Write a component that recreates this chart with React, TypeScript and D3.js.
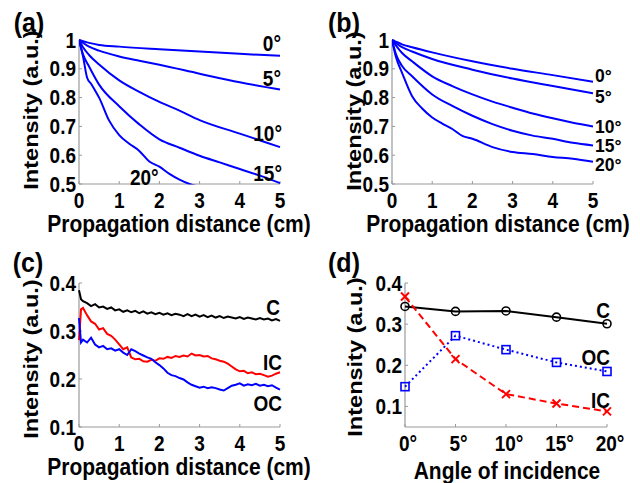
import React from "react";
import * as d3 from "d3";

// panel (a): intensity vs propagation distance
const a0x = [0, 0.25, 0.5, 1, 2, 3, 4, 5];
const a0y = [1, 0.99, 0.983, 0.977, 0.968, 0.96, 0.952, 0.945];
const a5x = [0, 0.25, 0.5, 1, 1.5, 2, 3, 4, 5];
const a5y = [1, 0.977, 0.963, 0.943, 0.928, 0.914, 0.883, 0.853, 0.828];
const a10x = [0, 0.1, 0.25, 0.5, 1, 1.5, 2, 2.5, 3, 4, 5];
const a10y = [1, 0.975, 0.948, 0.915, 0.86, 0.82, 0.785, 0.755, 0.722, 0.675, 0.628];
const a15x = [0, 0.1, 0.25, 0.5, 1, 1.5, 2, 2.5, 3, 3.5, 4, 4.5, 5];
const a15y = [1, 0.95, 0.908, 0.845, 0.77, 0.707, 0.655, 0.626, 0.598, 0.575, 0.552, 0.529, 0.503];
const a20x = [0, 0.1, 0.2, 0.3, 0.4, 0.5, 0.75, 1, 1.25, 1.5, 1.75, 2, 2.25, 2.5, 2.75, 3];
const a20y = [1, 0.943, 0.87, 0.848, 0.825, 0.8, 0.72, 0.67, 0.64, 0.615, 0.578, 0.56, 0.535, 0.515, 0.5, 0.49];

// panel (b)
const b0x = [0, 0.25, 0.5, 1, 2, 3, 4, 5];
const b0y = [1, 0.985, 0.975, 0.957, 0.926, 0.9, 0.878, 0.855];
const b5x = [0, 0.25, 0.5, 1, 2, 3, 4, 5];
const b5y = [1, 0.975, 0.96, 0.934, 0.897, 0.866, 0.84, 0.815];
const b10x = [0, 0.25, 0.5, 1, 1.5, 2, 2.5, 3, 3.5, 4, 4.5, 5];
const b10y = [1, 0.955, 0.926, 0.874, 0.84, 0.811, 0.786, 0.765, 0.745, 0.728, 0.713, 0.7];
const b15x = [0, 0.1, 0.25, 0.5, 1, 1.5, 2, 2.5, 3, 3.5, 4, 4.5, 5];
const b15y = [1, 0.95, 0.91, 0.874, 0.811, 0.771, 0.737, 0.708, 0.685, 0.668, 0.657, 0.643, 0.634];
const b20x = [0, 0.1, 0.25, 0.5, 0.75, 1, 1.25, 1.5, 1.75, 2, 2.5, 3, 3.5, 4, 4.5, 5];
const b20y = [1, 0.94, 0.886, 0.805, 0.762, 0.731, 0.71, 0.691, 0.667, 0.657, 0.628, 0.611, 0.604, 0.594, 0.588, 0.577];

const angleLabels = ["0°", "5°", "10°", "15°", "20°"];

// panel (c): noisy measured curves
const distC = [0, 0.05, 0.1, 0.2, 0.3, 0.4, 0.5, 0.6, 0.7, 0.8, 0.9, 1.0, 1.1, 1.2, 1.3, 1.4, 1.5, 1.6, 1.7, 1.8, 1.9,
  2.0, 2.1, 2.2, 2.3, 2.4, 2.5, 2.6, 2.7, 2.8, 2.9, 3.0, 3.1, 3.2, 3.3, 3.4, 3.5, 3.6, 3.7, 3.8, 3.9,
  4.0, 4.1, 4.2, 4.3, 4.4, 4.5, 4.6, 4.7, 4.8, 4.9, 5.0];
const cC = [0.385, 0.366, 0.362, 0.358, 0.352, 0.356, 0.349, 0.351, 0.346, 0.349, 0.343, 0.345, 0.34, 0.343, 0.339,
  0.342, 0.337, 0.341, 0.336, 0.339, 0.335, 0.338, 0.334, 0.337, 0.333, 0.336, 0.334, 0.331, 0.335, 0.331, 0.334,
  0.33, 0.333, 0.329, 0.332, 0.328, 0.331, 0.327, 0.33, 0.328, 0.326, 0.329, 0.325, 0.328, 0.326, 0.324, 0.327,
  0.324, 0.326, 0.322, 0.325, 0.321];
const cIC = [0.281, 0.345, 0.348, 0.333, 0.32, 0.315, 0.303, 0.306, 0.294, 0.29, 0.282, 0.272, 0.262, 0.266, 0.245,
  0.241, 0.242, 0.237, 0.236, 0.24, 0.238, 0.243, 0.242, 0.246, 0.244, 0.248, 0.246, 0.249, 0.247, 0.253, 0.249,
  0.25, 0.247, 0.248, 0.243, 0.241, 0.238, 0.236, 0.232, 0.226, 0.22, 0.216, 0.217, 0.212, 0.214, 0.21, 0.211,
  0.208, 0.205, 0.207, 0.211, 0.214];
const cOC = [0.327, 0.276, 0.282, 0.276, 0.286, 0.272, 0.266, 0.269, 0.262, 0.264, 0.259, 0.262, 0.255, 0.25, 0.262,
  0.258, 0.253, 0.249, 0.245, 0.242, 0.235, 0.229, 0.222, 0.213, 0.208, 0.206, 0.202, 0.199, 0.193, 0.188, 0.185,
  0.182, 0.184, 0.181, 0.183, 0.181, 0.178, 0.176, 0.181, 0.186, 0.188, 0.191, 0.186, 0.189, 0.187, 0.19, 0.186,
  0.188, 0.185, 0.187, 0.182, 0.178];

// panel (d): intensity vs angle of incidence
const angles = [0, 5, 10, 15, 20];
const dC = [0.343, 0.331, 0.332, 0.317, 0.301];
const dOC = [0.148, 0.272, 0.238, 0.207, 0.185];
const dIC = [0.367, 0.215, 0.13, 0.107, 0.088];

const FONT = "'Liberation Sans', Arial, Helvetica, sans-serif";
const STRETCH = 1.12;
const BLUE = "#0000ff";
const AXIS = "#9a9a9a";

type TProps = {
  x: number; y: number; size: number; anchor?: string; rotate?: boolean; stretch?: number; children: React.ReactNode;
};
const T = ({ x, y, size, anchor = "middle", rotate = false, stretch = STRETCH, children }: TProps) => (
  <text
    transform={`translate(${x},${y}) scale(1,${stretch})${rotate ? " rotate(-90)" : ""}`}
    fontFamily={FONT}
    fontWeight="bold"
    fontSize={size}
    textAnchor={anchor}
    fill="#000"
  >
    {children}
  </text>
);

type Scale = d3.ScaleLinear<number, number>;

const Axes = ({ x, y, xt, yt, xl, yl, xShift = 0 }: {
  x: Scale; y: Scale; xt: number[]; yt: number[]; xl: string[]; yl: string[]; xShift?: number;
}) => {
  const [x0, x1] = x.range();
  const [y0, y1] = y.range();
  const tickBase = y0 + 20;
  return (
    <g>
      <line x1={x0} x2={x1} y1={y0} y2={y0} stroke={AXIS} strokeWidth={1.2} />
      <line x1={x0} x2={x0} y1={y0} y2={y1} stroke={AXIS} strokeWidth={1.2} />
      {xt.map((t) => (
        <line key={"xt" + t} x1={x(t)} x2={x(t)} y1={y0} y2={y0 - 3} stroke={AXIS} strokeWidth={1} />
      ))}
      {yt.map((t) => (
        <line key={"yt" + t} x1={x0} x2={x0 + 3} y1={y(t)} y2={y(t)} stroke={AXIS} strokeWidth={1} />
      ))}
      {xt.map((t, i) => (
        <T key={"xl" + t} x={x(t) + xShift} y={tickBase + 4} size={19}>{xl[i]}</T>
      ))}
      {yt.map((t, i) => (
        <T key={"yl" + t} x={x0 - 3} y={y(t) + 7.5} size={19} anchor="end">{yl[i]}</T>
      ))}
    </g>
  );
};

const mkLine = (x: Scale, y: Scale, curve = d3.curveMonotoneX) =>
  d3.line<[number, number]>().x((d) => x(d[0])).y((d) => y(d[1])).curve(curve);

const pairs = (xs: number[], ys: number[]) => xs.map((v, i) => [v, ys[i]] as [number, number]);

export default function App() {
  const distTicks = [0, 1, 2, 3, 4, 5];
  const distLabels = distTicks.map(String);

  // (a)
  const xa = d3.scaleLinear().domain([0, 5]).range([79, 280]);
  const ya = d3.scaleLinear().domain([0.5, 1]).range([184, 40]);
  const la = mkLine(xa, ya);
  // (b)
  const xb = d3.scaleLinear().domain([0, 5]).range([392, 593]);
  const yb = d3.scaleLinear().domain([0.5, 1]).range([184, 40]);
  const lb = mkLine(xb, yb);
  // (c)
  const xc = d3.scaleLinear().domain([0, 5]).range([79, 280]);
  const yc = d3.scaleLinear().domain([0.1, 0.4]).range([427, 283]);
  const lc = mkLine(xc, yc, d3.curveLinear);
  // (d)
  const xd = d3.scaleLinear().domain([0, 20]).range([405, 607]);
  const yd = d3.scaleLinear().domain([0.05, 0.4]).range([427, 283]);
  const ld = mkLine(xd, yd, d3.curveLinear);

  const abTicks = [0.5, 0.6, 0.7, 0.8, 0.9, 1];
  const abLabels = ["0.5", "0.6", "0.7", "0.8", "0.9", "1"];
  const cdTicks = [0.1, 0.2, 0.3, 0.4];
  const cdLabels = ["0.1", "0.2", "0.3", "0.4"];

  const seriesA = [pairs(a0x, a0y), pairs(a5x, a5y), pairs(a10x, a10y), pairs(a15x, a15y), pairs(a20x, a20y)];
  const seriesB = [pairs(b0x, b0y), pairs(b5x, b5y), pairs(b10x, b10y), pairs(b15x, b15y), pairs(b20x, b20y)];

  // label anchor points (pixel) for curve annotations
  const labA: [number, number, string][] = [[281, 43, "end"], [281, 78, "end"], [282, 133, "end"], [282, 173, "end"], [130, 177, "start"]];
  const labB: [number, number][] = [[595, 75.5], [595, 96], [595, 126], [595, 145], [595, 164]];

  const xMark = (cx: number, cy: number, k: string) => (
    <g key={k} stroke="#ff0000" strokeWidth={2}>
      <line x1={cx - 4} y1={cy - 4} x2={cx + 4} y2={cy + 4} />
      <line x1={cx - 4} y1={cy + 4} x2={cx + 4} y2={cy - 4} />
    </g>
  );

  return (
    <svg width={640} height={483} style={{ position: "absolute", left: 0, top: 0, background: "#fff" }}>
      <defs>
        <clipPath id="clipA"><rect x={79} y={30} width={210} height={154.5} /></clipPath>
        <clipPath id="clipB"><rect x={392} y={30} width={210} height={154.5} /></clipPath>
      </defs>

      {/* (a) */}
      <T x={29} y={32} size={25}>(a)</T>
      <Axes x={xa} y={ya} xt={distTicks} yt={abTicks} xl={distLabels} yl={abLabels} />
      <g clipPath="url(#clipA)">
        {seriesA.map((s, i) => (
          <path key={"a" + i} d={la(s) || ""} fill="none" stroke={BLUE} strokeWidth={2} />
        ))}
      </g>
      {labA.map(([x, y, anc], i) => (
        <T key={"la" + i} x={x} y={y + 7.5} size={19} anchor={anc}>{angleLabels[i]}</T>
      ))}
      <T x={38} y={110} size={21} rotate>Intensity (a.u.)</T>
      <T x={179} y={232} size={21}>Propagation distance (cm)</T>

      {/* (b) */}
      <T x={344} y={32} size={25}>(b)</T>
      <Axes x={xb} y={yb} xt={distTicks} yt={abTicks} xl={distLabels} yl={abLabels} />
      <g clipPath="url(#clipB)">
        {seriesB.map((s, i) => (
          <path key={"b" + i} d={lb(s) || ""} fill="none" stroke={BLUE} strokeWidth={2} />
        ))}
      </g>
      {labB.map(([x, y], i) => (
        <T key={"lb" + i} x={x} y={y + 6.5} size={17.5} stretch={1.05} anchor="start">{angleLabels[i]}</T>
      ))}
      <T x={361} y={111} size={21} rotate>Intensity (a.u.)</T>
      <T x={498} y={232} size={21}>Propagation distance (cm)</T>

      {/* (c) */}
      <T x={28} y={272} size={25}>(c)</T>
      <Axes x={xc} y={yc} xt={distTicks} yt={cdTicks} xl={distLabels} yl={cdLabels} />
      <path d={lc(pairs(distC, cC)) || ""} fill="none" stroke="#000" strokeWidth={2} />
      <path d={lc(pairs(distC, cIC)) || ""} fill="none" stroke="#ff0000" strokeWidth={2} />
      <path d={lc(pairs(distC, cOC)) || ""} fill="none" stroke={BLUE} strokeWidth={2} />
      <T x={280} y={307 + 7.5} size={19} anchor="end">C</T>
      <T x={282} y={362 + 7.5} size={19} anchor="end">IC</T>
      <T x={282} y={403 + 7.5} size={19} anchor="end">OC</T>
      <T x={38} y={359} size={21} rotate>Intensity (a.u.)</T>
      <T x={179} y={475} size={21}>Propagation distance (cm)</T>

      {/* (d) */}
      <T x={344} y={272} size={25}>(d)</T>
      <Axes x={xd} y={yd} xt={angles} yt={cdTicks} xl={angleLabels} yl={cdLabels} xShift={3} />
      <path d={ld(pairs(angles, dC)) || ""} fill="none" stroke="#000" strokeWidth={2} />
      <path d={ld(pairs(angles, dOC)) || ""} fill="none" stroke={BLUE} strokeWidth={2} strokeDasharray="2,3" />
      <path d={ld(pairs(angles, dIC)) || ""} fill="none" stroke="#ff0000" strokeWidth={2} strokeDasharray="7,4" />
      {angles.map((a, i) => (
        <circle key={"dc" + a} cx={xd(a)} cy={yd(dC[i])} r={4} fill="none" stroke="#000" strokeWidth={1.6} />
      ))}
      {angles.map((a, i) => (
        <rect key={"do" + a} x={xd(a) - 4} y={yd(dOC[i]) - 4} width={8} height={8} fill="none" stroke={BLUE} strokeWidth={1.6} />
      ))}
      {angles.map((a, i) => xMark(xd(a), yd(dIC[i]), "di" + a))}
      <T x={610} y={310 + 7.5} size={19} anchor="end">C</T>
      <T x={610} y={357 + 7.5} size={19} anchor="end">OC</T>
      <T x={610} y={400 + 7.5} size={19} anchor="end">IC</T>
      <T x={362} y={357} size={21} rotate>Intensity (a.u.)</T>
      <T x={507} y={479} size={21}>Angle of incidence</T>
    </svg>
  );
}
